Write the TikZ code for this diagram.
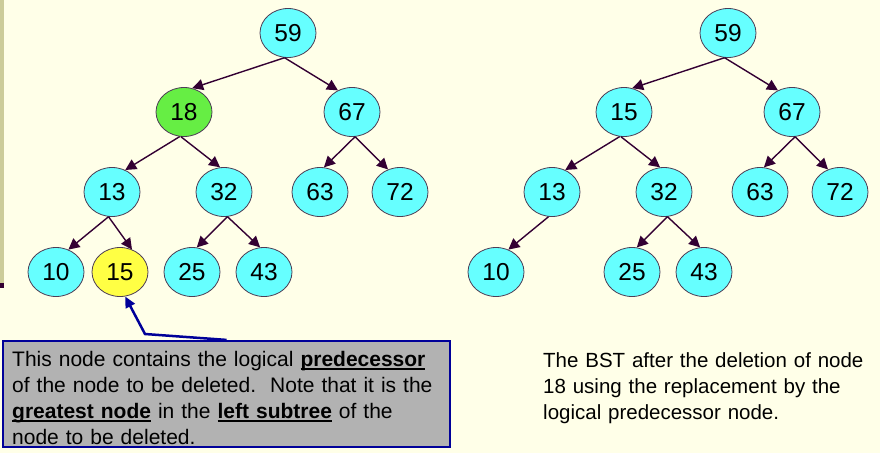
\documentclass[tikz,border=0pt]{standalone}
\usepackage{fontspec}
\setmainfont{Liberation Sans}
\usetikzlibrary{shapes.geometric,arrows.meta}
\definecolor{bg}{HTML}{FFFFE8}
\definecolor{barc}{HTML}{CCCC99}
\definecolor{nodecyan}{HTML}{66FFFF}
\definecolor{nodegreen}{HTML}{66EE44}
\definecolor{nodeyellow}{HTML}{FFFF44}
\definecolor{edgec}{HTML}{330033}
\definecolor{rimc}{HTML}{4D3D55}
\definecolor{calloutblue}{HTML}{000099}
\definecolor{calloutgray}{HTML}{B2B2B2}
\newcommand\myul[1]{\leavevmode\setbox0\hbox{\textbf{#1}}\rlap{\rule[-4pt]{\wd0}{2pt}}\box0\relax}
\begin{document}
\begin{tikzpicture}[x=1pt,y=-1pt,
  bst/.style={ellipse, draw=rimc, line width=0.8pt, fill=nodecyan,
    minimum width=56pt, minimum height=49pt, inner sep=0pt,
    font=\fontsize{24.5}{28}\selectfont},
  edge/.style={draw=edgec, line width=1.4pt, -{Triangle[length=11pt,width=11pt]}},
  calloutbox/.style={draw=calloutblue, line width=2.2pt, fill=calloutgray,
    minimum width=447pt, minimum height=106pt, inner sep=0pt},
  calloutarrow/.style={draw=calloutblue, line width=2.5pt, line join=miter,
    -{Triangle[length=11pt,width=10pt]}},
  note/.style={anchor=base west, inner sep=0pt, text width=440pt, align=left,
    font=\fontsize{20.5}{26}\selectfont}]
\useasboundingbox (0,0) rectangle (880,453);
\fill[bg] (0,0) rectangle (880,453);
\fill[barc] (0,0) rectangle (4,283);
\fill[edgec] (0,283) rectangle (4,288);
% left tree
\node[bst] (a59) at (288,33) {59};
\node[bst,fill=nodegreen] (a18) at (184,112) {18};
\node[bst] (a67) at (352,112) {67};
\node[bst] (a13) at (112,192) {13};
\node[bst] (a32) at (224,192) {32};
\node[bst] (a63) at (320,192) {63};
\node[bst] (a72) at (400,192) {72};
\node[bst] (a10) at (56,272) {10};
\node[bst,fill=nodeyellow] (a15) at (120,272) {15};
\node[bst] (a25) at (192,272) {25};
\node[bst] (a43) at (264,272) {43};
\draw[edge] (a59.262) -- (a18.71);
\draw[edge] (a59.262) -- (a67.123);
\draw[edge] (a18.260) -- (a13.59);
\draw[edge] (a18.263) -- (a32.99);
\draw[edge] (a67.277) -- (a63.81);
\draw[edge] (a67.277) -- (a72.118);
\draw[edge] (a13.262) -- (a10.61);
\draw[edge] (a13.262) -- (a15.62);
\draw[edge] (a32.278) -- (a25.79);
\draw[edge] (a32.278) -- (a43.99);
% right tree
\node[bst] (b59) at (728,33) {59};
\node[bst] (b15) at (624,112) {15};
\node[bst] (b67) at (792,112) {67};
\node[bst] (b13) at (552,192) {13};
\node[bst] (b32) at (664,192) {32};
\node[bst] (b63) at (760,192) {63};
\node[bst] (b72) at (840,192) {72};
\node[bst] (b10) at (496,272) {10};
\node[bst] (b25) at (632,272) {25};
\node[bst] (b43) at (704,272) {43};
\draw[edge] (b59.262) -- (b15.71);
\draw[edge] (b59.262) -- (b67.123);
\draw[edge] (b15.260) -- (b13.59);
\draw[edge] (b15.263) -- (b32.99);
\draw[edge] (b67.277) -- (b63.81);
\draw[edge] (b67.277) -- (b72.118);
\draw[edge] (b13.262) -- (b10.61);
\draw[edge] (b32.278) -- (b25.79);
\draw[edge] (b32.278) -- (b43.99);
% callout
\node[calloutbox] (callout) at (226.5,394) {};
\node[note, font=\fontsize{21}{26}\selectfont] (callouttext) at (12,366) {This node contains the logical \myul{predecessor}\\
of the node to be deleted.\ \ Note that it is the\\
\myul{greatest node} in the \myul{left subtree} of the\\
node to be deleted.};
\coordinate (bend) at (145,334);
\draw[calloutarrow] (callout.north) -- (bend) -- (a15.282);
% right note
\node[note, text width=330pt] (afternote) at (543,367) {The BST after the deletion of node\\
18 using the replacement by the\\
logical predecessor node.};
\end{tikzpicture}
\end{document}
